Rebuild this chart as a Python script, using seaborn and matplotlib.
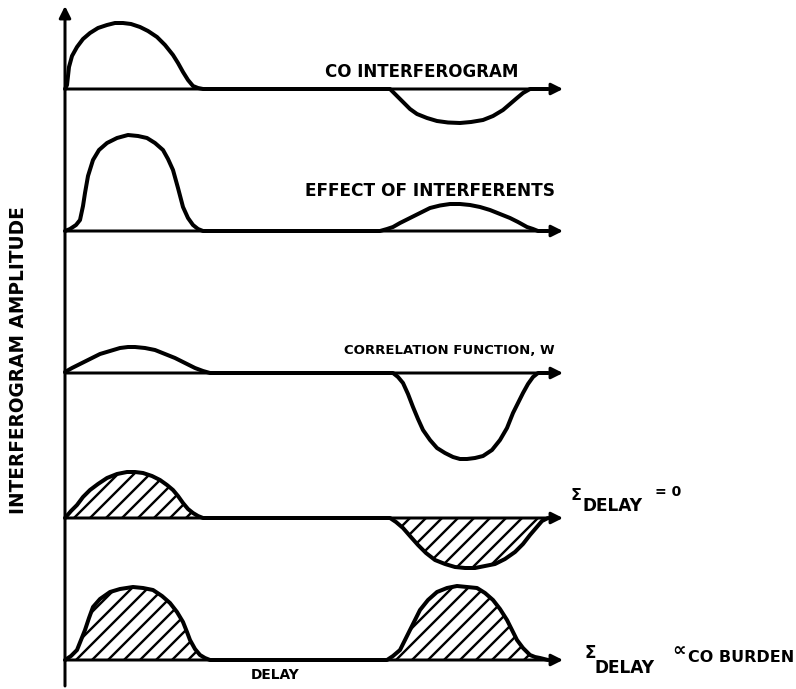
import matplotlib
matplotlib.use("Agg")
import matplotlib.pyplot as plt
import numpy as np
import pandas as pd
import seaborn as sns

# Delay positions and amplitudes of each trace (amplitude measured up from its baseline)
co_delay = [65, 67, 69, 72, 77, 83, 90, 98, 107, 115, 123, 131, 140, 148, 157,
            165, 173, 178, 183, 188, 193, 198, 203,
            390, 396, 403, 410, 417, 427, 437, 448, 460, 471, 483, 493, 503,
            510, 517, 523, 530, 548]
co_amp = [0, 4, 22, 33, 42, 50, 56, 61, 64, 66, 66, 65, 62, 58, 52,
          44, 34, 26, 17, 9, 3, 1, 0,
          0, -6, -13, -20, -25, -29, -32, -33.5, -34, -33, -31, -27, -21,
          -15, -9, -4, 0, 0]

interf_delay = [65, 70, 76, 80, 83, 85, 88, 93, 99, 107, 117, 128, 138, 147,
                155, 163, 168, 173, 178, 183, 188, 193, 198, 203,
                380, 387, 393, 400, 410, 420, 430, 440, 450, 460, 470, 480,
                490, 500, 510, 518, 527, 533, 538, 548]
interf_amp = [0, 2, 6, 11, 25, 38, 55, 71, 81, 88, 93, 96, 95, 93,
              88, 81, 72, 61, 43, 24, 13, 6, 2, 0,
              0, 2, 4, 8, 13, 18, 23, 25.5, 27, 27, 26, 24,
              21, 17, 13, 9, 4, 2, 0, 0]

corr_delay = [65, 72, 80, 90, 100, 110, 120, 128, 135, 145, 155, 165, 175,
              185, 195, 203, 210,
              393, 398, 403, 408, 413, 418, 423, 430, 437, 445, 453, 460, 467,
              475, 483, 492, 500, 507, 513, 518, 523, 528, 533, 538, 548]
corr_amp = [1, 5, 9, 14, 19, 22, 25, 26, 26, 25, 23, 19, 15,
            10, 5, 2, 0,
            0, -4, -10, -21, -34, -46, -57, -67, -75, -80, -84, -86, -86,
            -85, -83, -77, -67, -55, -40, -30, -20, -11, -4, 0, 0]

sum0_delay = [65, 71, 77, 83, 90, 98, 107, 117, 127, 135, 143, 152, 160, 167,
              173, 178, 183, 188, 193, 198, 203,
              390, 396, 403, 410, 418, 426, 435, 445, 455, 465, 475, 485, 495,
              505, 515, 523, 530, 536, 542, 548]
sum0_amp = [0, 7, 13, 21, 28, 34, 40, 44, 46, 46, 45, 42, 38, 33,
            28, 22, 15, 9, 5, 2, 0,
            0, -4, -10, -18, -27, -35, -42, -46, -49, -50, -50, -48, -46,
            -41, -34, -26, -17, -10, -3, 0]

burden_delay = [65, 71, 77, 81, 85, 89, 93, 100, 110, 120, 133, 143, 153, 162,
                170, 177, 183, 187, 190, 195, 200, 205, 210,
                387, 393, 400, 405, 410, 415, 420, 428, 437, 447, 457, 467,
                477, 485, 493, 500, 507, 512, 517, 523, 530, 535, 540, 548]
burden_amp = [0, 4, 10, 20, 30, 42, 53, 61, 68, 71, 73, 72, 70, 64,
              57, 48, 38, 28, 20, 11, 5, 2, 0,
              0, 4, 10, 20, 30, 40, 50, 60, 68, 72, 74, 73,
              72, 67, 60, 51, 40, 30, 20, 12, 5, 3, 2, 0]

trace_labels = ["CO INTERFEROGRAM", "EFFECT OF INTERFERENTS",
                "CORRELATION FUNCTION, W"]
x_label = "DELAY"
y_label = "INTERFEROGRAM AMPLITUDE"

W, H, DPI = 796, 689, 144


def pt(pixels):
    """Convert a size in output pixels to points."""
    return pixels * 72.0 / DPI


sns.set_theme(style="white")
plt.rcParams["font.family"] = ["DejaVu Sans"]
plt.rcParams["hatch.linewidth"] = pt(2.4)

fig = plt.figure(figsize=(W / DPI, H / DPI), dpi=DPI)
ax = fig.add_axes([0, 0, 1, 1])

AX_X = 65
ARROW_END = 563
baselines = [89, 231, 373, 518, 660]
traces = [(co_delay, co_amp, False),
          (interf_delay, interf_amp, False),
          (corr_delay, corr_amp, False),
          (sum0_delay, sum0_amp, True),
          (burden_delay, burden_amp, True)]

arrow_style = dict(arrowstyle="-|>", mutation_scale=pt(24), lw=pt(3),
                   color="black", shrinkA=0, shrinkB=0)

# vertical amplitude axis
ax.annotate("", xy=(AX_X, 6), xytext=(AX_X, 686), arrowprops=arrow_style)

for base, (dx, amp, hatched) in zip(baselines, traces):
    ax.annotate("", xy=(ARROW_END, base), xytext=(AX_X, base),
                arrowprops=arrow_style)
    df = pd.DataFrame({"delay": dx, "y": base - np.asarray(amp, float)})
    if hatched:
        ax.fill_between(df["delay"], base, df["y"], facecolor="white",
                        edgecolor="black", hatch="///", linewidth=0, zorder=1)
    sns.lineplot(data=df, x="delay", y="y", ax=ax, sort=False, color="black",
                 lw=pt(4), solid_joinstyle="round", solid_capstyle="round",
                 zorder=3)

ax.set_xlim(0, W)
ax.set_ylim(H, 0)
ax.axis("off")

bold = dict(fontweight="bold", color="black", ha="left", va="center")
ax.text(325, 72, trace_labels[0], fontsize=pt(16.6), **bold)
ax.text(305, 191, trace_labels[1], fontsize=pt(17), **bold)
ax.text(344, 351, trace_labels[2], fontsize=pt(13.3), **bold)

# summation labels
ax.text(571, 496, "Σ", fontsize=pt(16), **bold)
ax.text(583, 506, "DELAY", fontsize=pt(17), **bold)
ax.text(655, 492, "= 0", fontsize=pt(14), **bold)

ax.text(584, 653, "Σ", fontsize=pt(17), **bold)
ax.text(595, 668, "DELAY", fontsize=pt(17), **bold)
ax.text(672, 651, "∝", fontsize=pt(19), **bold)
ax.text(688, 658, "CO BURDEN", fontsize=pt(16), **bold)

ax.text(275, 675, x_label, fontsize=pt(13.7), fontweight="bold", color="black",
        ha="center", va="center")
ax.text(19, 360, y_label, fontsize=pt(18.5), fontweight="bold", color="black",
        ha="center", va="center", rotation=90)

fig.savefig("out.png", dpi=DPI)
